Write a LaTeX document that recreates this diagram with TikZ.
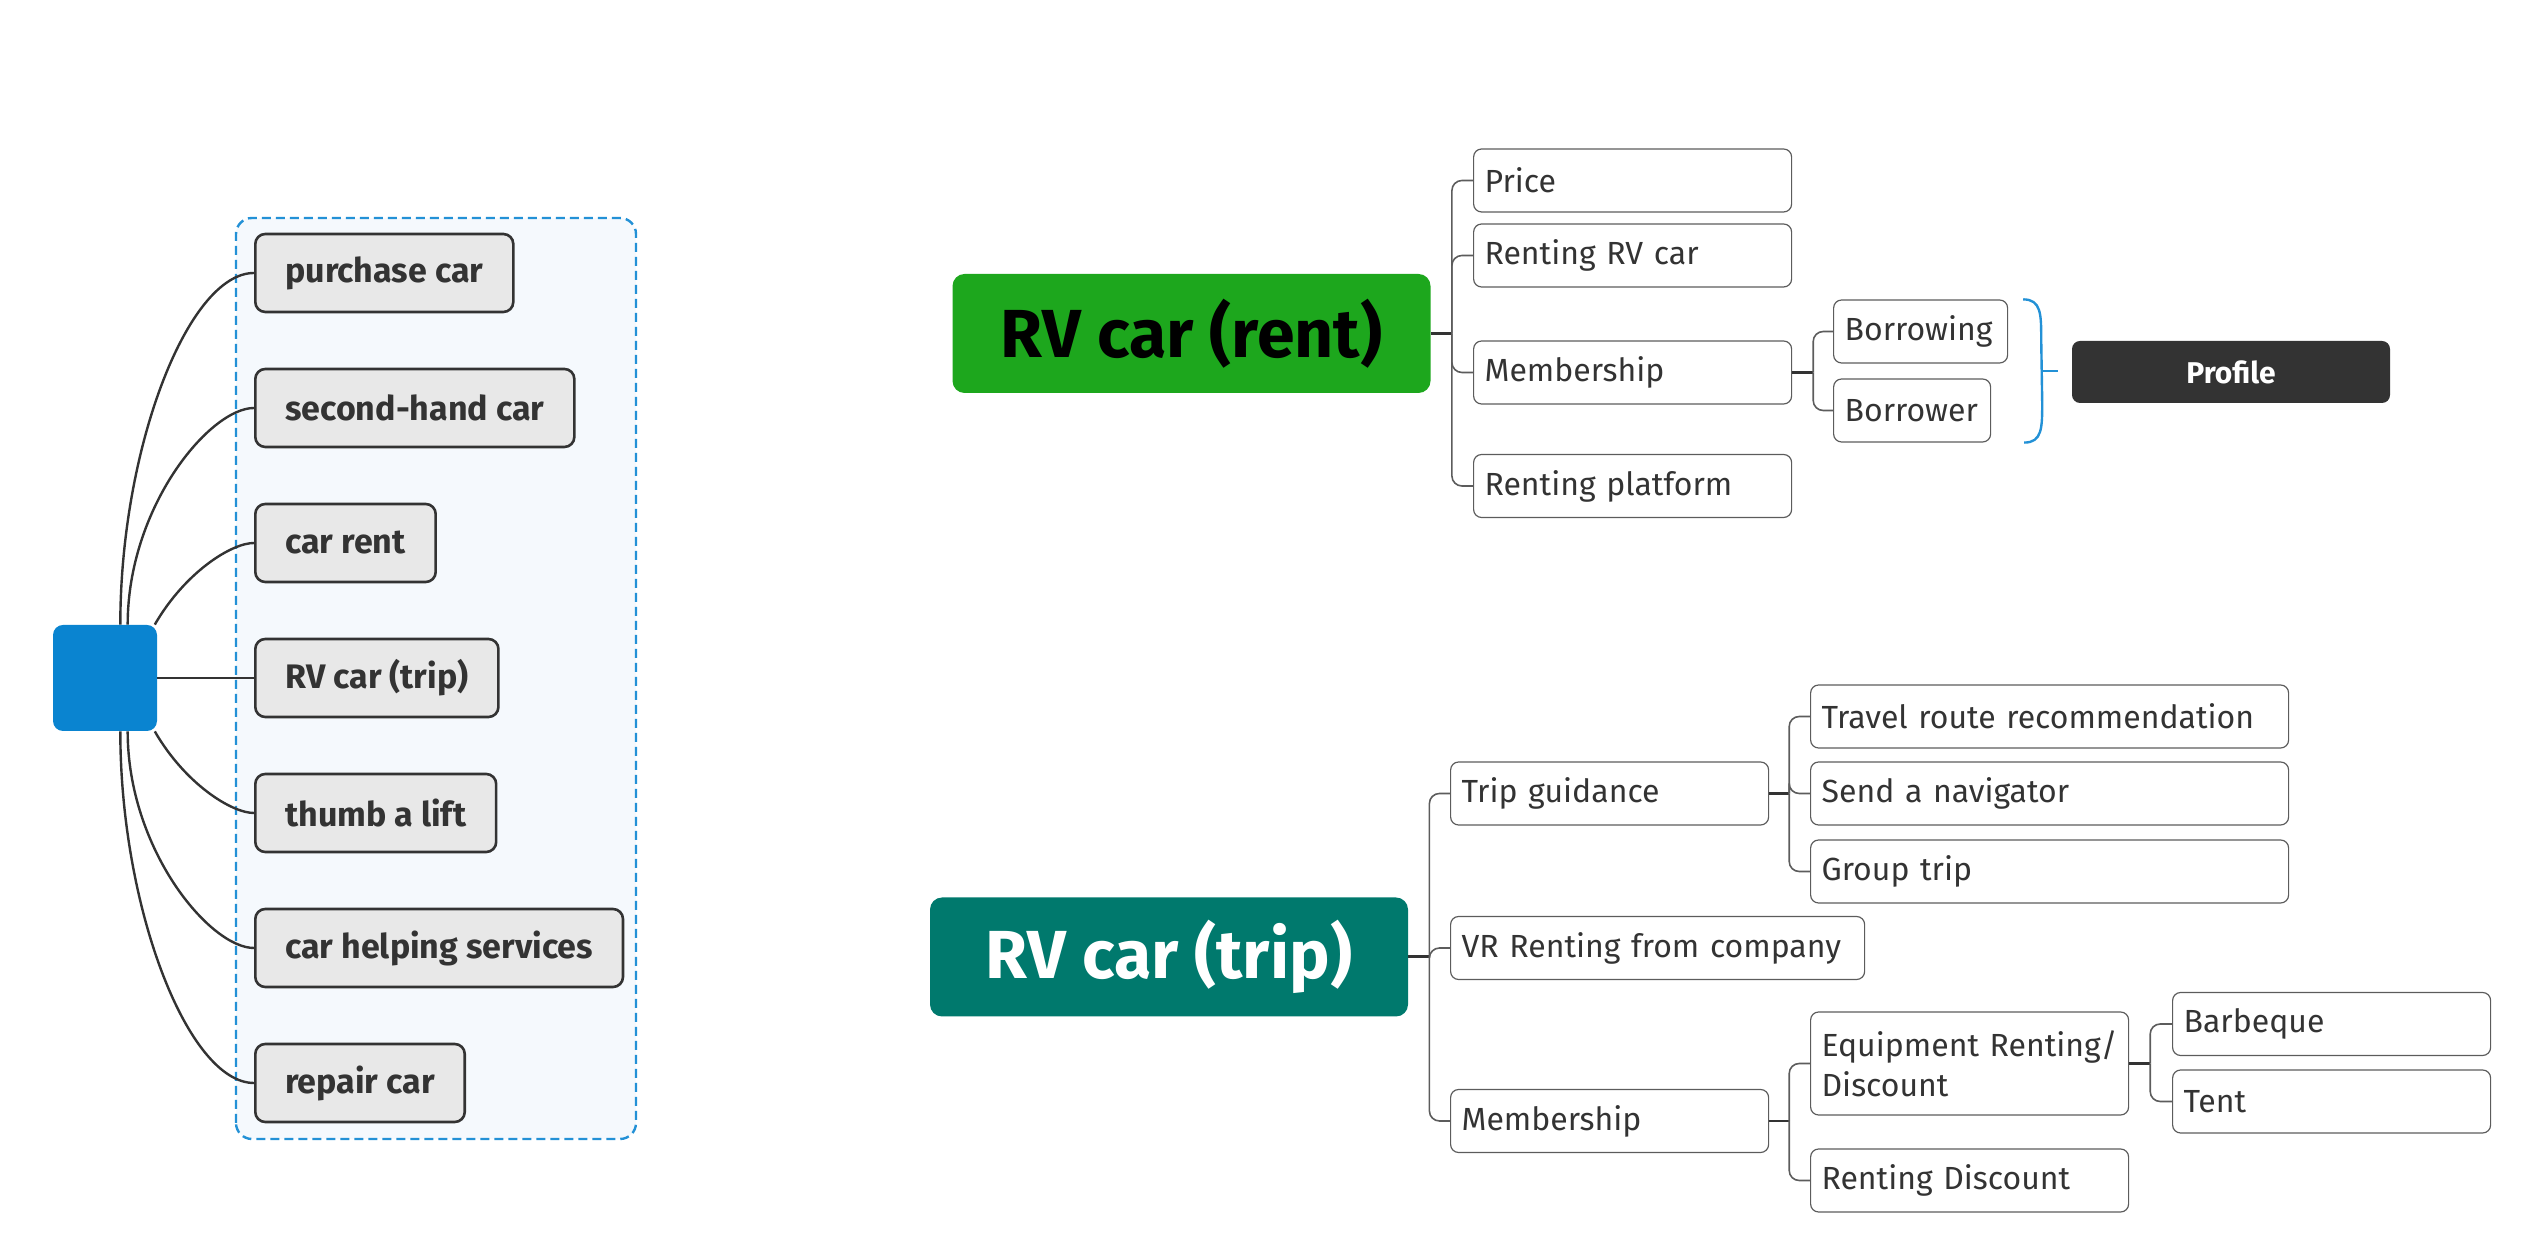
\documentclass[tikz,border=0pt]{standalone}
\usepackage{fontspec}
\setmainfont{Fira Sans}
\usetikzlibrary{positioning, calc}

\definecolor{rootblue}{HTML}{0A84D0}
\definecolor{rentgreen}{HTML}{1DA71D}
\definecolor{tripteal}{HTML}{00796D}
\definecolor{inkgray}{HTML}{333333}
\definecolor{boxgray}{HTML}{E8E8E8}
\definecolor{dashblue}{HTML}{2391D6}
\definecolor{panel}{HTML}{F5F9FD}

\tikzset{
  topic/.style={draw=inkgray, line width=1.3pt, fill=boxgray, rounded corners=5pt,
    inner xsep=15pt, minimum height=39pt, anchor=west, text=inkgray,
    font=\fontsize{17}{20}\selectfont\bfseries},
  twig/.style={draw=inkgray, line width=1.2pt, out looseness=1.2, in looseness=0.45},
  hub/.style={rounded corners=6pt, minimum width=239pt, minimum height=59.5pt,
    font=\fontsize{34}{40}\selectfont\bfseries},
  leaf/.style={draw=inkgray!80, line width=0.6pt, rounded corners=4pt, inner xsep=5.5pt,
    minimum height=31.5pt, text width=#1, align=left, anchor=west, text=inkgray,
    font=\fontsize{16}{20}\selectfont},
  leaf/.default=148pt,
  trunk/.style={draw=inkgray, line width=1.5pt},
  stub/.style={draw=inkgray, line width=1.2pt},
  branch/.style={draw=inkgray!80, line width=0.8pt, rounded corners=5pt},
  brace/.style={draw=dashblue, line width=1.2pt},
}

\begin{document}
\begin{tikzpicture}[x=0.5pt, y=0.5pt]
  \useasboundingbox (0,0) rectangle (2532,1258);

  % left panel
  \draw[dashblue, dash pattern=on 4.5pt off 2.5pt, line width=1.2pt, fill=panel, rounded corners=8pt]
    (236,119) rectangle (636,1040);
  \node[fill=rootblue, rounded corners=5pt, minimum width=52pt, minimum height=53pt] (root) at (105,580) {};

  \node[topic] (buy)  at (254,985) {purchase car};
  \node[topic] (used) at (254,850) {second-hand car};
  \node[topic] (hire) at (254,715) {car rent};
  \node[topic] (rv)   at (254,580) {RV car (trip)};
  \node[topic] (lift) at (254,445) {thumb a lift};
  \node[topic] (help) at (254,310) {car helping services};
  \node[topic] (fix)  at (254,175) {repair car};

  \draw[twig] (root.74) to[out=90, in=180] (buy.west);
  \draw[twig] (root.67) to[out=90, in=180] (used.west);
  \draw[twig] (root.47) to[out=60, in=180] (hire.west);
  \draw[twig] (root.east) -- (rv.west);
  \draw[twig] (root.-47) to[out=-60, in=180] (lift.west);
  \draw[twig] (root.-67) to[out=-90, in=180] (help.west);
  \draw[twig] (root.-74) to[out=-90, in=180] (fix.west);

  % RV car (rent)
  \node[hub, fill=rentgreen, text=black] (rent) at (1191.5,924.5) {RV car (rent)};
  \node[leaf] (price) at (1473,1077.5) {Price};
  \node[leaf] (rentrv) at (1473,1002.5) {Renting RV car};
  \node[leaf] (member) at (1473,885.5) {Membership};
  \node[leaf] (platform) at (1473,772) {Renting platform};
  \node[leaf=76pt] (bwing) at (1833,926.5) {Borrowing};
  \node[leaf=67.5pt] (bwer) at (1833,847.5) {Borrower};
  \node[fill=inkgray, rounded corners=4pt, minimum width=159pt, minimum height=31pt, text=white,
    font=\fontsize{15}{18}\selectfont\bfseries] (profile) at (2231,886) {Profile};

  \coordinate (rentfork) at ([xshift=10.5pt]rent.east);
  \draw[trunk] (rent.east) -- (rentfork);
  \draw[branch] (rentfork) |- (price.west);
  \draw[branch] (rentfork) |- (rentrv.west);
  \draw[branch] (rentfork) |- (member.west);
  \draw[branch] (rentfork) |- (platform.west);

  \coordinate (memfork) at ([xshift=10.5pt]member.east);
  \draw[stub] (member.east) -- (memfork);
  \draw[branch] (memfork) |- (bwing.west);
  \draw[branch] (memfork) |- (bwer.west);

  \coordinate (bt) at ([xshift=7.5pt]bwing.north east);
  \coordinate (bb) at ([xshift=16.5pt]bwer.south east);
  \coordinate (bmid) at ($(bt)!0.5!(bb)$);
  \draw[brace] (bt) .. controls +(18,0) and +(0,25) .. ($(bt)+(18,-40)$)
    -- ($(bb)+(18,40)$) .. controls +(0,-25) and +(18,0) .. (bb);
  \draw[brace] ([xshift=9pt]bmid) -- ([xshift=17pt]bmid);

  % RV car (trip)
  \node[hub, fill=tripteal, text=white] (trip) at (1169,301) {RV car (trip)};
  \node[leaf] (guide) at (1450,464.5) {Trip guidance};
  \node[leaf=196pt] (vr) at (1450,310) {VR Renting from company};
  \node[leaf] (club) at (1450,137) {Membership};
  \node[leaf=228pt] (route) at (1810,541.5) {Travel route recommendation};
  \node[leaf=228pt] (navi) at (1810,464.5) {Send a navigator};
  \node[leaf=228pt] (group) at (1810,386.5) {Group trip};
  \node[leaf, minimum height=51.5pt] (gear) at (1810,194.5) {Equipment Renting/\\Discount};
  \node[leaf] (disc) at (1810,77.5) {Renting Discount};
  \node[leaf] (bbq) at (2172,234) {Barbeque};
  \node[leaf] (tent) at (2172,156.5) {Tent};

  \coordinate (tripfork) at ([xshift=10.5pt]trip.east);
  \draw[trunk] (trip.east) -- (tripfork);
  \draw[branch] (tripfork) |- (guide.west);
  \draw[branch] (tripfork) |- (vr.west);
  \draw[branch] (tripfork) |- (club.west);

  \coordinate (guidefork) at ([xshift=10pt]guide.east);
  \draw[stub] (guide.east) -- (guidefork);
  \draw[branch] (guidefork) |- (route.west);
  \draw[branch] (guidefork) |- (navi.west);
  \draw[branch] (guidefork) |- (group.west);

  \coordinate (clubfork) at ([xshift=10pt]club.east);
  \draw[stub] (club.east) -- (clubfork);
  \draw[branch] (clubfork) |- (gear.west);
  \draw[branch] (clubfork) |- (disc.west);

  \coordinate (gearfork) at ([xshift=10.5pt]gear.east);
  \draw[stub] (gear.east) -- (gearfork);
  \draw[branch] (gearfork) |- (bbq.west);
  \draw[branch] (gearfork) |- (tent.west);
\end{tikzpicture}
\end{document}
